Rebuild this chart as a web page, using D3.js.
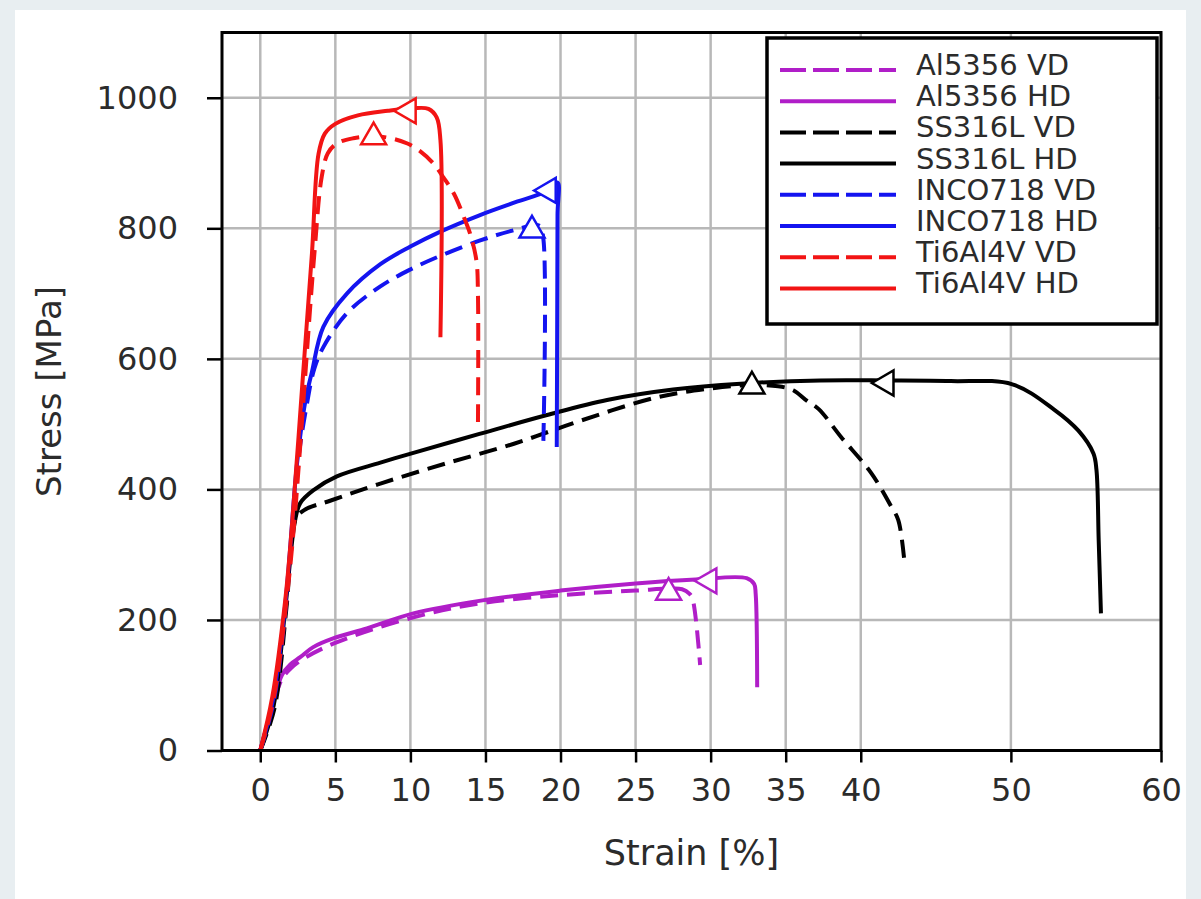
<!DOCTYPE html>
<html lang="en">
<head>
  <meta charset="UTF-8">
  <title>Stress-strain curves</title>
  <script src="https://d3js.org/d3.v7.min.js"></script>
  <style>
    html, body { margin: 0; padding: 0; background: #e8eef1; }
    svg { display: block; }
    text { font-family: "DejaVu Sans", sans-serif; fill: #2b2b2b; }
  </style>
</head>
<body>
  <div id="chart"></div>

  <script>
    // ---- data: [strain %, stress MPa] ----
    const al5356VD = [[0,0],[0.8,66],[1.45,110],[2.0,125],[2.7,138],[4.9,164],[10.2,204],[14.8,226],[20,238],[25,245],[28.1,247],[28.6,240],[28.8,232],[29.3,131]];
    const al5356HD = [[0,0],[0.8,68],[1.45,116],[2.0,132],[2.66,143],[3.5,158],[4.9,172],[7.1,187],[10.2,210],[14.8,230],[20,245],[25,256],[29,262],[32.4,264],[32.9,255],[33.0,240],[33.1,97]];
    const ss316lVD = [[0,0],[0.95,65],[1.75,220],[2.33,353],[2.9,368],[4.7,383],[8,409],[12.4,440],[16.9,470],[21.3,505],[26.4,541],[29.8,554],[32.7,560],[34.5,558],[35.5,552],[36.4,536],[37.2,523],[38.7,480],[40.7,425],[42.0,375],[42.5,353],[42.9,291]];
    const ss316lHD = [[0,0],[0.9,70],[1.7,225],[2.3,350],[2.66,379],[3.55,399],[5.1,420],[8,441],[10.2,456],[14.6,485],[19.1,514],[23.1,537],[27.5,553],[32,562],[37.3,567],[41.7,567],[46,566],[50.1,561],[52.9,522],[54.5,490],[55.5,455],[55.7,430],[55.85,322],[56.0,210]];
    const inco718VD = [[0,0],[0.9,75],[1.75,232],[2.5,440],[3.1,530],[3.6,585],[4.2,618],[5.77,670],[8,711],[10,737],[11.8,756],[14.6,781],[16.9,797],[18.6,804],[18.85,785],[18.85,465]];
    const inco718HD = [[0,0],[0.85,78],[1.7,232],[2.45,440],[3.0,535],[3.44,580],[4.2,649],[5.77,700],[8,745],[10,772],[12,795],[14.6,820],[17,840],[19.1,857],[19.8,870],[19.8,820],[19.75,465]];
    const ti6al4vVD = [[0,0],[0.9,80],[1.75,230],[2.25,345],[3.6,760],[4.1,880],[4.5,915],[5.1,930],[6.2,938],[7.5,941],[8.7,938],[9.8,930],[10.6,919],[11.5,900],[12.2,878],[12.9,853],[13.6,815],[14.0,790],[14.4,750],[14.5,700],[14.5,496]];
    const ti6al4vHD = [[0,0],[0.8,82],[1.66,230],[2.1,342],[2.8,561],[3.44,761],[3.88,914],[4.3,945],[5.0,960],[6.5,973],[8.5,980],[10.2,984],[11.2,983],[11.75,970],[12.0,935],[12.0,633]];

    // marker (triangle) position on each curve, same order as the series
    const markerPoints = [[27.2,242],[29.9,260],[32.75,558],[41.7,563],[18.1,797],[19.2,858],[7.55,940],[9.87,980]];

    const seriesNames = ["Al5356 VD","Al5356 HD","SS316L VD","SS316L HD","INCO718 VD","INCO718 HD","Ti6Al4V VD","Ti6Al4V HD"];
    const seriesData = [al5356VD, al5356HD, ss316lVD, ss316lHD, inco718VD, inco718HD, ti6al4vVD, ti6al4vHD];
    const seriesColors = ["#b01ec8","#b01ec8","#000000","#000000","#1414f0","#1414f0","#f21414","#f21414"];
    const seriesDashed = [true,false,true,false,true,false,true,false];

    const xTicks = [0,5,10,15,20,25,30,35,40,50,60];
    const yTicks = [0,200,400,600,800,1000];

    // ---- layout ----
    const ancho = 1201;
    const alto = 899;
    const pLeft = 222, pRight = 1161, pTop = 32.5, pBottom = 750.5;

    const svg = d3.select("#chart")
      .append("svg")
      .attr("width", ancho)
      .attr("height", alto);

    // white panel on the grey page
    svg.append("rect")
      .attr("x", 15).attr("y", 10)
      .attr("width", 1171).attr("height", 889)
      .attr("fill", "#ffffff");

    const x = d3.scaleLinear().domain([-2.55, 60]).range([pLeft, pRight]);
    const y = d3.scaleLinear().domain([0, 1100]).range([pBottom, pTop]);

    // grid
    svg.append("g")
      .selectAll("line")
      .data(xTicks)
      .join("line")
      .attr("x1", d => x(d)).attr("x2", d => x(d))
      .attr("y1", pTop).attr("y2", pBottom)
      .attr("stroke", "#b8b8b8")
      .attr("stroke-width", 2.5);

    svg.append("g")
      .selectAll("line")
      .data(yTicks)
      .join("line")
      .attr("x1", pLeft).attr("x2", pRight)
      .attr("y1", d => y(d)).attr("y2", d => y(d))
      .attr("stroke", "#b8b8b8")
      .attr("stroke-width", 2.5);

    // curves
    const linea = d3.line()
      .x(d => x(d[0]))
      .y(d => y(d[1]))
      .curve(d3.curveCatmullRom.alpha(0.5));

    svg.append("g")
      .selectAll("path")
      .data(seriesData)
      .join("path")
      .attr("d", d => linea(d))
      .attr("fill", "none")
      .attr("stroke", (d, i) => seriesColors[i])
      .attr("stroke-width", 4)
      .attr("stroke-linejoin", "round")
      .attr("stroke-dasharray", (d, i) => seriesDashed[i] ? "18,9" : null);

    // triangle markers: up for VD, left for HD
    const tri = d3.symbol().type(d3.symbolTriangle).size(270);
    svg.append("g")
      .selectAll("path")
      .data(markerPoints)
      .join("path")
      .attr("d", tri)
      .attr("transform", (d, i) => `translate(${x(d[0])},${y(d[1])}) rotate(${seriesDashed[i] ? 0 : -90})`)
      .attr("fill", "#ffffff")
      .attr("stroke", (d, i) => seriesColors[i])
      .attr("stroke-width", 2.5);

    // axes
    const ejeX = svg.append("g")
      .attr("transform", `translate(0, ${pBottom})`)
      .call(d3.axisBottom(x).tickValues(xTicks).tickFormat(d3.format("d"))
        .tickSize(12).tickSizeOuter(0).tickPadding(16));
    const ejeY = svg.append("g")
      .attr("transform", `translate(${pLeft}, 0)`)
      .call(d3.axisLeft(y).tickValues(yTicks).tickFormat(d3.format("d"))
        .tickSize(15).tickSizeOuter(0).tickPadding(29));

    [ejeX, ejeY].forEach(g => {
      g.select(".domain").remove();
      g.selectAll(".tick line").attr("stroke", "#000").attr("stroke-width", 2.5);
      g.selectAll(".tick text")
        .attr("fill", "#2b2b2b")
        .style("font-family", "'DejaVu Sans', sans-serif")
        .style("font-size", "32px");
    });

    // frame
    svg.append("rect")
      .attr("x", pLeft).attr("y", pTop)
      .attr("width", pRight - pLeft).attr("height", pBottom - pTop)
      .attr("fill", "none")
      .attr("stroke", "#000")
      .attr("stroke-width", 3);

    // axis titles
    svg.append("text")
      .attr("x", (pLeft + pRight) / 2)
      .attr("y", 865)
      .attr("text-anchor", "middle")
      .style("font-size", "35px")
      .text("Strain [%]");

    svg.append("text")
      .attr("transform", `translate(61, ${(pTop + pBottom) / 2}) rotate(-90)`)
      .attr("text-anchor", "middle")
      .style("font-size", "34px")
      .text("Stress [MPa]");

    // legend
    const leyenda = svg.append("g");
    leyenda.append("rect")
      .attr("x", 767).attr("y", 38)
      .attr("width", 390).attr("height", 286)
      .attr("fill", "#ffffff")
      .attr("stroke", "#000")
      .attr("stroke-width", 3.5);

    const filas = leyenda.selectAll("g.fila")
      .data(seriesNames)
      .join("g")
      .attr("class", "fila")
      .attr("transform", (d, i) => `translate(0, ${70 + i * 31.2})`);

    filas.append("line")
      .attr("x1", 780).attr("x2", 896)
      .attr("y1", 0).attr("y2", 0)
      .attr("stroke", (d, i) => seriesColors[i])
      .attr("stroke-width", 4)
      .attr("stroke-dasharray", (d, i) => seriesDashed[i] ? "26,7" : null);

    filas.append("text")
      .attr("x", 916)
      .attr("y", 5)
      .style("font-size", "29px")
      .text(d => d);
  </script>
</body>
</html>
